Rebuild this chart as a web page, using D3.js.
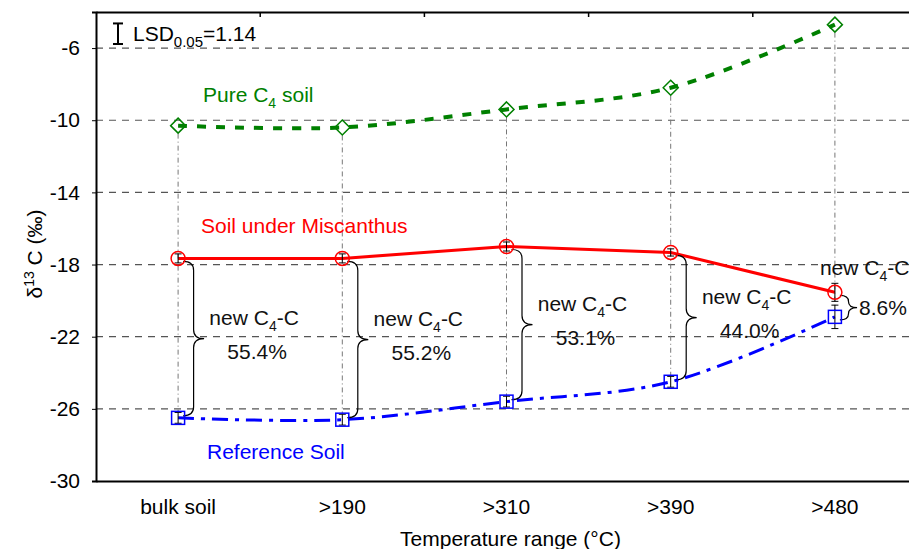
<!DOCTYPE html>
<html>
<head>
<meta charset="utf-8">
<script src="https://cdn.jsdelivr.net/npm/d3@7"></script>
<style>
  body { margin: 0; background: #fff; }
  svg { font-family: "Liberation Sans", Arial, sans-serif; }
</style>
</head>
<body>
<svg width="909" height="549"></svg>
<script>
// Temperature fractions on x
const categories = ["bulk soil", ">190", ">310", ">390", ">480"];
// delta 13C values
const pureC4 = [-10.3, -10.4, -9.4, -8.2, -4.7];
const miscanthus = [-17.66, -17.66, -17.0, -17.33, -19.54];
const miscanthusErr = [0.25, 0.25, 0.25, 0.2, 0.5];
const reference = [-26.5, -26.6, -25.6, -24.5, -20.9];
const referenceErr = [0.3, 0.3, 0.3, 0.3, 0.65];
// share of new C4 carbon
const newC4 = ["55.4%", "55.2%", "53.1%", "44.0%", "8.6%"];
const yTicks = [-30, -26, -22, -18, -14, -10, -6];
const lsd = 1.14;

const svg = d3.select("svg");
const margin = { top: 12, right: -8, bottom: 68, left: 96 };
const width = 909, height = 549;
const fs = 21;

const x = d3.scaleBand()
  .domain(categories)
  .range([margin.left, width - margin.right]);
const cx = d => x(d) + x.bandwidth() / 2;
const y = d3.scaleLinear()
  .domain([-30, -4])
  .range([height - margin.bottom, margin.top]);

const green = "#008000", red = "#ff0000", blue = "#0000ff";

// horizontal dashed grid
svg.append("g")
  .selectAll("line")
  .data(yTicks.filter(t => t > -30))
  .join("line")
  .attr("x1", margin.left).attr("x2", width)
  .attr("y1", d => y(d)).attr("y2", d => y(d))
  .attr("stroke", "#555").attr("stroke-width", 1.2)
  .attr("stroke-dasharray", "7,6");

// vertical dash-dot guides
svg.append("g")
  .selectAll("line")
  .data(categories)
  .join("line")
  .attr("x1", d => cx(d)).attr("x2", d => cx(d))
  .attr("y1", (d, i) => y(pureC4[i]) + 8)
  .attr("y2", (d, i) => y(reference[i]) - 6)
  .attr("stroke", "#777").attr("stroke-width", 1)
  .attr("stroke-dasharray", "5,3,1,3");

// axes
svg.append("g")
  .attr("transform", `translate(${margin.left},0)`)
  .call(d3.axisLeft(y).tickValues(yTicks).tickFormat(d => String(d)).tickSize(4))
  .call(g => g.select(".domain").attr("stroke-width", 2))
  .call(g => g.selectAll("text").attr("font-size", fs).attr("fill", "#000").attr("dx", -9));

svg.append("g")
  .attr("transform", `translate(0,${height - margin.bottom})`)
  .call(d3.axisBottom(x).tickSize(0).tickPadding(18))
  .call(g => g.select(".domain").attr("stroke-width", 2))
  .call(g => g.selectAll("text").attr("font-size", fs).attr("fill", "#000"));

// top border with ticks between categories
svg.append("g")
  .attr("transform", `translate(0,${margin.top})`)
  .call(d3.axisTop(x).tickSize(0).tickFormat(""))
  .call(g => g.select(".domain").attr("stroke-width", 2))
  .call(g => g.selectAll(".sep")
    .data(categories.slice(1))
    .join("line")
    .attr("class", "sep")
    .attr("x1", d => x(d)).attr("x2", d => x(d))
    .attr("y1", 0).attr("y2", 5)
    .attr("stroke", "#000").attr("stroke-width", 1.5));

// lines
const curve = d3.line()
  .x((d, i) => cx(categories[i]))
  .y(d => y(d))
  .curve(d3.curveCatmullRom.alpha(0.5));
const straight = d3.line()
  .x((d, i) => cx(categories[i]))
  .y(d => y(d));

svg.append("path").datum(pureC4)
  .attr("d", curve).attr("fill", "none")
  .attr("stroke", green).attr("stroke-width", 4)
  .attr("stroke-dasharray", "9,10");

svg.append("path").datum(reference)
  .attr("d", curve).attr("fill", "none")
  .attr("stroke", blue).attr("stroke-width", 3)
  .attr("stroke-dasharray", "16,7,4,7");

svg.append("path").datum(miscanthus)
  .attr("d", straight).attr("fill", "none")
  .attr("stroke", red).attr("stroke-width", 3);

// braces between Miscanthus and reference
const braces = svg.append("g").attr("fill", "none").attr("stroke", "#000").attr("stroke-width", 1.2);
categories.forEach((c, i) => {
  const last = i === categories.length - 1;
  const x0 = cx(c) + 5;
  const y1 = y(miscanthus[i]) + 3;
  const y2 = y(reference[i]) + (last ? 3 : -2);
  const w = Math.min(21, (y2 - y1) * 0.7);
  const r = Math.min(9, (y2 - y1) / 4);
  const xm = x0 + w / 2;
  const ym = (y1 + y2) / 2;
  braces.append("path").attr("d",
    `M${x0},${y1} Q${xm},${y1} ${xm},${y1 + r} L${xm},${ym - r} Q${xm},${ym} ${x0 + w},${ym}` +
    ` Q${xm},${ym} ${xm},${ym + r} L${xm},${y2 - r} Q${xm},${y2} ${x0},${y2}`);

  const tip = x0 + w;
  const lab = svg.append("g").attr("font-size", fs).attr("fill", "#111");
  let t1x, t1y, t2x, t2y, anchor1 = "middle", anchor2 = "middle";
  if (last) {
    t1x = cx(c) - 15; t1y = y(miscanthus[i]) - 17; anchor1 = "start";
    t2x = tip + 2; t2y = ym + 7; anchor2 = "start";
  } else {
    t1x = tip + 50; t1y = ym - 14;
    t2x = tip + 53; t2y = ym + 20;
  }
  const t = lab.append("text").attr("x", t1x).attr("y", t1y).attr("text-anchor", anchor1);
  t.append("tspan").text("new C");
  t.append("tspan").attr("font-size", 14).attr("dy", 6).text("4");
  t.append("tspan").attr("dy", -6).text("-C");
  lab.append("text").attr("x", t2x).attr("y", t2y).attr("text-anchor", anchor2).text(newC4[i]);
});

// error bars
function errBars(vals, errs) {
  const g = svg.append("g").attr("stroke", "#000").attr("stroke-width", 1);
  vals.forEach((v, i) => {
    const px = cx(categories[i]);
    g.append("line").attr("x1", px).attr("x2", px).attr("y1", y(v - errs[i])).attr("y2", y(v + errs[i]));
    g.append("line").attr("x1", px - 3.5).attr("x2", px + 3.5).attr("y1", y(v - errs[i])).attr("y2", y(v - errs[i]));
    g.append("line").attr("x1", px - 3.5).attr("x2", px + 3.5).attr("y1", y(v + errs[i])).attr("y2", y(v + errs[i]));
  });
}
errBars(miscanthus, miscanthusErr);
errBars(reference, referenceErr);

// markers
svg.append("g").selectAll("path")
  .data(pureC4)
  .join("path")
  .attr("d", "M0,-7.5L7.5,0L0,7.5L-7.5,0Z")
  .attr("transform", (d, i) => `translate(${cx(categories[i])},${y(d)})`)
  .attr("fill", "none").attr("stroke", green).attr("stroke-width", 1.5);

svg.append("g").selectAll("circle")
  .data(miscanthus)
  .join("circle")
  .attr("cx", (d, i) => cx(categories[i])).attr("cy", d => y(d)).attr("r", 7)
  .attr("fill", "none").attr("stroke", red).attr("stroke-width", 1.5);

svg.append("g").selectAll("rect")
  .data(reference)
  .join("rect")
  .attr("x", (d, i) => cx(categories[i]) - 6.5).attr("y", d => y(d) - 6.5)
  .attr("width", 13).attr("height", 13)
  .attr("fill", "none").attr("stroke", blue).attr("stroke-width", 1.5);

// series labels
const lbl1 = svg.append("text").attr("x", 203).attr("y", 102).attr("font-size", fs).attr("fill", green);
lbl1.append("tspan").text("Pure C");
lbl1.append("tspan").attr("font-size", 14).attr("dy", 6).text("4");
lbl1.append("tspan").attr("dy", -6).text(" soil");
svg.append("text").attr("x", 201).attr("y", 233).attr("font-size", fs).attr("fill", red).text("Soil under Miscanthus");
svg.append("text").attr("x", 207).attr("y", 459).attr("font-size", fs).attr("fill", blue).text("Reference Soil");

// LSD key
const lx = 118, ly = 44;
const lsdH = y(-30) - y(-30 + lsd);
const lsdG = svg.append("g").attr("stroke", "#000").attr("stroke-width", 2);
lsdG.append("line").attr("x1", lx).attr("x2", lx).attr("y1", ly).attr("y2", ly - lsdH);
lsdG.append("line").attr("x1", lx - 5).attr("x2", lx + 5).attr("y1", ly).attr("y2", ly);
lsdG.append("line").attr("x1", lx - 5).attr("x2", lx + 5).attr("y1", ly - lsdH).attr("y2", ly - lsdH);
const lt = svg.append("text").attr("x", 133).attr("y", 41).attr("font-size", fs).attr("fill", "#000");
lt.append("tspan").text("LSD");
lt.append("tspan").attr("font-size", 15).attr("dy", 6).text("0.05");
lt.append("tspan").attr("dy", -6).text("=1.14");

// axis titles
const yl = svg.append("text")
  .attr("transform", `translate(42,254) rotate(-90)`)
  .attr("text-anchor", "middle").attr("font-size", fs).attr("fill", "#000");
yl.append("tspan").text("δ");
yl.append("tspan").attr("font-size", 14).attr("dy", -8).text("13");
yl.append("tspan").attr("dy", 8).text(" C (‰)");

svg.append("text")
  .attr("x", (margin.left + width - margin.right) / 2 + 4).attr("y", 546)
  .attr("text-anchor", "middle").attr("font-size", fs).attr("fill", "#000")
  .text("Temperature range (°C)");
</script>
</body>
</html>
